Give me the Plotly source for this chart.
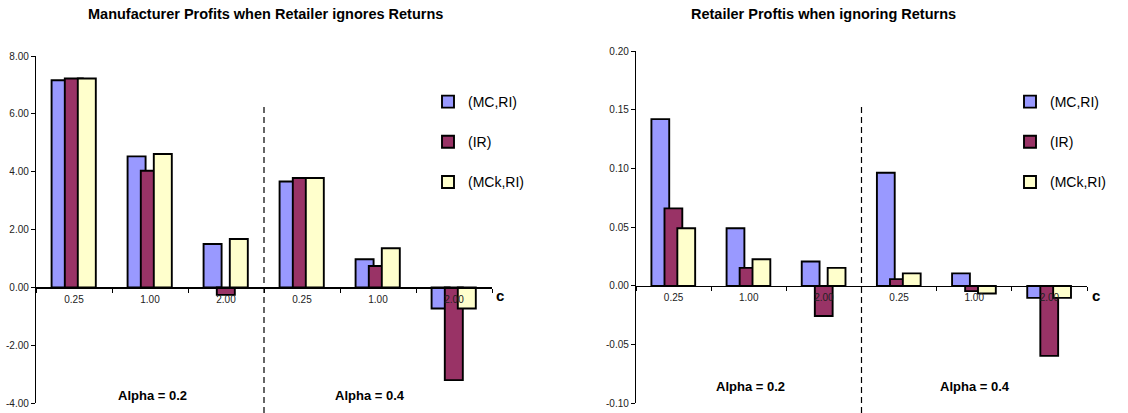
import plotly.graph_objects as go

# ---------------- data ----------------
ALPHAS = ["0.2", "0.4"]
C_LABELS = ["0.25", "1.00", "2.00"]
SERIES = ["(MC,RI)", "(IR)", "(MCk,RI)"]

# Manufacturer profits (alpha 0.2: c=0.25,1,2 ; alpha 0.4: c=0.25,1,2)
MANU_MC_RI = [7.16, 4.53, 1.50, 3.66, 0.97, -0.73]
MANU_IR = [7.22, 4.03, -0.26, 3.78, 0.74, -3.21]
MANU_MCK_RI = [7.22, 4.61, 1.67, 3.78, 1.35, -0.73]

# Retailer profits
RET_MC_RI = [0.142, 0.049, 0.0208, 0.0963, 0.0106, -0.0102]
RET_IR = [0.066, 0.0153, -0.0256, 0.0057, -0.0045, -0.0596]
RET_MCK_RI = [0.049, 0.0227, 0.0153, 0.0106, -0.0065, -0.0102]

LEFT_YTICKS = [-4, -2, 0, 2, 4, 6, 8]
RIGHT_YTICKS = [-0.10, -0.05, 0.00, 0.05, 0.10, 0.15, 0.20]

TITLE_LEFT = "Manufacturer Profits when Retailer ignores Returns"
TITLE_RIGHT = "Retailer Proftis when ignoring Returns"

# ---------------- styling ----------------
COLORS = ["#9999FF", "#993366", "#FFFFCC"]
OFFSETS = [-0.295, -0.121, 0.05]
BAR_W = 0.237
FONT = "Liberation Sans, Arial, sans-serif"
W, H = 1128, 413

X_KEYS = [f"a{a}|c{c}" for a in ALPHAS for c in C_LABELS]
X_TEXT = [c for a in ALPHAS for c in C_LABELS]


def px_x(p):
    return p / W


def px_y(p):
    return (H - p) / H


fig = go.Figure()

left_data = [MANU_MC_RI, MANU_IR, MANU_MCK_RI]
right_data = [RET_MC_RI, RET_IR, RET_MCK_RI]

for i, (name, vals) in enumerate(zip(SERIES, left_data)):
    fig.add_trace(go.Bar(
        x=X_KEYS, y=vals, name=name, xaxis="x", yaxis="y",
        marker=dict(color=COLORS[i], line=dict(color="black", width=1.9)),
        width=BAR_W, offset=OFFSETS[i], legend="legend",
        legendgroup=f"l{i}", showlegend=True,
    ))
for i, (name, vals) in enumerate(zip(SERIES, right_data)):
    fig.add_trace(go.Bar(
        x=X_KEYS, y=vals, name=name, xaxis="x2", yaxis="y2",
        marker=dict(color=COLORS[i], line=dict(color="black", width=1.9)),
        width=BAR_W, offset=OFFSETS[i], legend="legend2",
        legendgroup=f"r{i}", showlegend=True,
    ))

# domains (pixel-derived)
lx = [px_x(36), px_x(492)]
rx = [px_x(636), px_x(1087)]
ly = [px_y(403), px_y(56)]
ry = [px_y(403.3), px_y(51)]
lr = [-4, 8]
rr = [-0.1, 0.2]


def zero_pos(dom, rng):
    return dom[0] + (0 - rng[0]) / (rng[1] - rng[0]) * (dom[1] - dom[0])


xcommon = dict(
    type="category", categoryorder="array", categoryarray=X_KEYS,
    tickvals=X_KEYS, ticktext=X_TEXT, tickson="boundaries",
    showline=True, linecolor="black", linewidth=1.2,
    ticks="outside", ticklen=4, tickcolor="black", tickwidth=1,
    tickfont=dict(family=FONT, size=10, color="#222"),
    showgrid=False, zeroline=False, anchor="free", ticklabelstandoff=2,
    range=[-0.5, 5.5], automargin=False,
)
ycommon = dict(
    showline=True, linecolor="black", linewidth=1.2,
    ticks="outside", ticklen=4, tickcolor="black", tickwidth=1,
    tickfont=dict(family=FONT, size=10, color="#222"),
    showgrid=False, zeroline=False, automargin=False,
)

legend_common = dict(
    xanchor="left", yanchor="top",
    traceorder="grouped", tracegroupgap=19, itemwidth=30,
    font=dict(family=FONT, size=14, color="black"),
    bgcolor="rgba(0,0,0,0)",
)

fig.update_layout(
    width=W, height=H, autosize=False,
    margin=dict(l=0, r=0, t=0, b=0, pad=0, autoexpand=False),
    paper_bgcolor="white", plot_bgcolor="rgba(0,0,0,0)",
    barmode="overlay",
    font=dict(family=FONT, color="black"),
    xaxis=dict(xcommon, domain=lx, position=zero_pos(ly, lr)),
    xaxis2=dict(xcommon, domain=rx, position=zero_pos(ry, rr)),
    yaxis=dict(ycommon, domain=ly, range=lr, anchor="x",
               tickvals=LEFT_YTICKS, ticktext=[f"{v:.2f}" for v in LEFT_YTICKS]),
    yaxis2=dict(ycommon, domain=ry, range=rr, anchor="x2",
                tickvals=RIGHT_YTICKS, ticktext=[f"{v:.2f}" for v in RIGHT_YTICKS]),
    legend=dict(legend_common, x=px_x(428), y=px_y(86)),
    legend2=dict(legend_common, x=px_x(1010), y=px_y(86)),
)


def ann(text, x, y, size):
    return dict(text=text, x=px_x(x), y=px_y(y), xref="paper", yref="paper",
                xanchor="center", yanchor="middle", showarrow=False,
                font=dict(family=FONT, size=size, color="black"))


annotations = [
    ann(f"<b>{TITLE_LEFT}</b>", 265, 14, 14.5),
    ann(f"<b>{TITLE_RIGHT}</b>", 823, 14, 14.5),
    ann(f"<b>Alpha = {ALPHAS[0]}</b>", 152, 395, 13),
    ann(f"<b>Alpha = {ALPHAS[1]}</b>", 370, 395, 13),
    ann(f"<b>Alpha = {ALPHAS[0]}</b>", 750, 386, 13),
    ann(f"<b>Alpha = {ALPHAS[1]}</b>", 975, 386, 13),
    ann("<b>c</b>", 500, 296, 15),
    ann("<b>c</b>", 1096, 296, 15),
]
fig.update_layout(annotations=annotations)

# dashed separators between alpha groups (at category boundary 2.5)
fig.add_shape(type="line", xref="x", yref="paper", x0=2.5, x1=2.5,
              y0=0, y1=px_y(104), line=dict(color="black", width=1.2, dash="6px,4px"))
fig.add_shape(type="line", xref="x2", yref="paper", x0=2.5, x1=2.5,
              y0=0, y1=px_y(104), line=dict(color="black", width=1.2, dash="6px,4px"))

fig.write_html(
    "out.html",
    config={"displayModeBar": False, "staticPlot": True},
    post_script="document.body.style.margin='0';document.body.style.overflow='hidden';",
)
